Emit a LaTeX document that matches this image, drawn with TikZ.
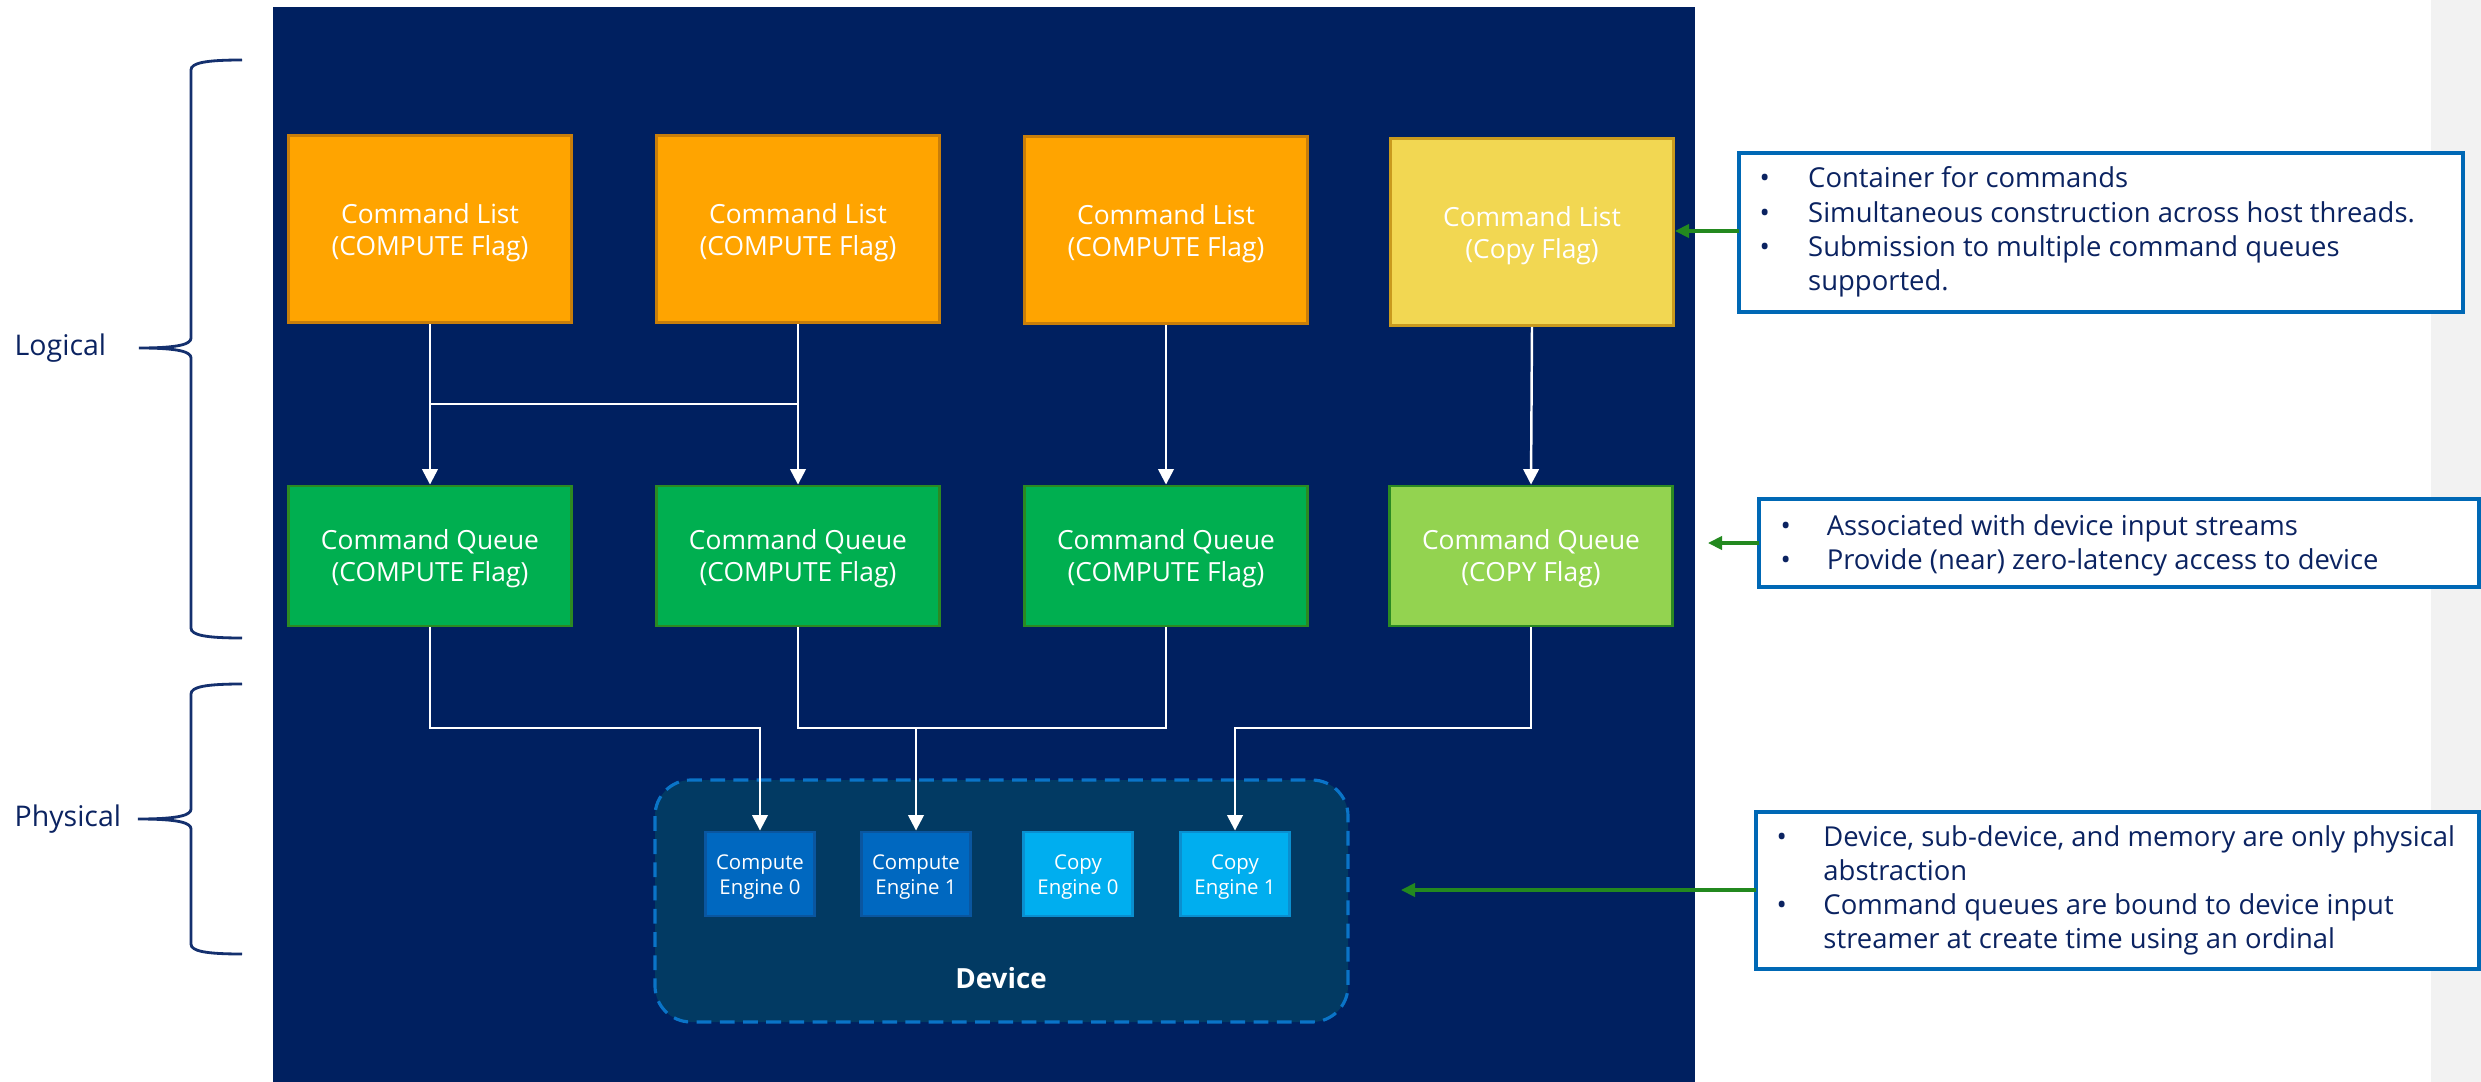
\documentclass[tikz,border=0pt]{standalone}
\usepackage{fontspec}
\setmainfont{Open Sans}
\usetikzlibrary{arrows.meta}
\definecolor{bgnavy}{HTML}{002060}
\definecolor{devfill}{HTML}{023A63}
\definecolor{devline}{HTML}{0A74C8}
\definecolor{clorange}{HTML}{FFA400}
\definecolor{clorangeb}{HTML}{C87E0A}
\definecolor{clyellow}{HTML}{F2D752}
\definecolor{clyellowb}{HTML}{C99A1E}
\definecolor{cqgreen}{HTML}{00AF50}
\definecolor{cqlgreen}{HTML}{93D350}
\definecolor{cqgreenb}{HTML}{2B8A22}
\definecolor{engblue}{HTML}{0068C0}
\definecolor{engblueb}{HTML}{0A56A0}
\definecolor{engcyan}{HTML}{00AEEF}
\definecolor{engcyanb}{HTML}{0A8FD0}
\definecolor{calloutb}{HTML}{0068B5}
\definecolor{txtnavy}{HTML}{0B2361}
\definecolor{brnavy}{HTML}{14306E}
\definecolor{arrgreen}{HTML}{23891F}
\definecolor{stripgray}{HTML}{F2F2F2}
\newcommand\lowtext[2]{\raisebox{#1}[\height][\depth]{\begin{tabular}{@{}c@{}}#2\end{tabular}}}
\tikzset{
  clbox/.style={draw=clorangeb, fill=clorange, line width=0.8pt, minimum width=2.83cm, minimum height=1.87cm, inner sep=0pt, text=white, align=center, font=\fontsize{7.5}{9.1}\selectfont},
  cqbox/.style={draw=cqgreenb, fill=cqgreen, line width=0.8pt, minimum width=2.83cm, minimum height=1.40cm, inner sep=0pt, text=white, align=center, font=\fontsize{7.5}{9.1}\selectfont},
  engbox/.style={draw=engblueb, fill=engblue, line width=0.8pt, minimum width=1.09cm, minimum height=0.84cm, inner sep=0pt, text=white, align=center, font=\fontsize{5.8}{7.1}\selectfont},
  wire/.style={draw=white, line width=0.7pt},
  warr/.style={wire, -{Triangle[length=4.4pt,width=4.4pt]}},
  garr/.style={draw=arrgreen, line width=0.9pt, -{Triangle[length=4pt,width=3.8pt]}},
  callout/.style={draw=calloutb, line width=1.4pt, fill=white},
  bullettext/.style={anchor=base west, inner sep=0pt, text=txtnavy, font=\fontsize{7.8}{9.75}\selectfont},
  bracket/.style={draw=brnavy, line width=0.8pt},
  sidelabel/.style={text=txtnavy, font=\fontsize{8.1}{10}\selectfont, inner sep=0pt, anchor=west}
}
\begin{document}
\begin{tikzpicture}[x=0.01cm, y=-0.01cm]
\useasboundingbox (0,0) rectangle (2481,1082);
% background areas
\fill[white] (0,0) rectangle (2481,1082);
\fill[stripgray] (2431,0) rectangle (2481,1082);
\fill[bgnavy] (273,7) rectangle (1695,1082);

% brackets
\draw[bracket] (242,60) .. controls (205,60) and (191,63) .. (191,70) -- (191,338)
  .. controls (191,344) and (180,348) .. (139,348)
  .. controls (180,348) and (191,352) .. (191,358) -- (191,628)
  .. controls (191,635) and (205,638) .. (242,638);
\draw[bracket] (242,684) .. controls (205,684) and (191,687) .. (191,694) -- (191,809)
  .. controls (191,815) and (180,819) .. (138,819)
  .. controls (180,819) and (191,823) .. (191,829) -- (191,944)
  .. controls (191,951) and (205,954) .. (242,954);
\node[sidelabel] (logical) at (14,348) {Logical};
\node[sidelabel] (physical) at (14,819) {Physical};

% device
\draw[devline, fill=devfill, line width=0.9pt, dash pattern=on 4.2pt off 2.4pt, rounded corners=0.36cm] (655,780) rectangle (1348,1022);
\node[text=white, font=\bfseries\fontsize{7.9}{9.5}\selectfont, inner sep=0pt] (device) at (1001,978) {Device};

% command lists
\node[clbox] (cl1) at (430,229) {\lowtext{-1.2pt}{Command List\\(COMPUTE Flag)}};
\node[clbox] (cl2) at (798,229) {\lowtext{-1.2pt}{Command List\\(COMPUTE Flag)}};
\node[clbox] (cl3) at (1166,230) {\lowtext{-1.2pt}{Command List\\(COMPUTE Flag)}};
\node[clbox, fill=clyellow, draw=clyellowb] (cl4) at (1532,232) {\lowtext{-1.2pt}{Command List\\(Copy Flag)}};

% command queues
\node[cqbox] (cq1) at (430,556) {\lowtext{-0.8pt}{Command Queue\\(COMPUTE Flag)}};
\node[cqbox] (cq2) at (798,556) {\lowtext{-0.8pt}{Command Queue\\(COMPUTE Flag)}};
\node[cqbox] (cq3) at (1166,556) {\lowtext{-0.8pt}{Command Queue\\(COMPUTE Flag)}};
\node[cqbox, fill=cqlgreen] (cq4) at (1531,556) {\lowtext{-0.8pt}{Command Queue\\(COPY Flag)}};

% engines
\node[engbox] (e0) at (760,874) {\lowtext{-0.8pt}{Compute\\Engine 0}};
\node[engbox] (e1) at (916,874) {\lowtext{-0.8pt}{Compute\\Engine 1}};
\node[engbox, fill=engcyan, draw=engcyanb] (c0) at (1078,874) {\lowtext{-0.8pt}{Copy\\Engine 0}};
\node[engbox, fill=engcyan, draw=engcyanb] (c1) at (1235,874) {\lowtext{-0.8pt}{Copy\\Engine 1}};

% connectors list -> queue
\draw[warr] (cl1.south) -- (cq1.north);
\draw[warr] (cl2.south) -- (cq2.north);
\draw[warr] (cl3.south) -- (cq3.north);
\draw[warr] (cl4.south) -- (cq4.north);
\coordinate (m1) at (430,404);
\coordinate (m2) at (798,404);
\draw[wire] (m1) -- (m2);

% connectors queue -> engines
\coordinate (bus) at (0,728);
\draw[warr] (cq1.south) |- (e0.north |- bus) -- (e0.north);
\draw[wire] (cq2.south) |- (cq3.south |- bus) -- (cq3.south);
\draw[warr] (e1.north |- bus) -- (e1.north);
\draw[warr] (cq4.south) |- (c1.north |- bus) -- (c1.north);

% callouts
\draw[callout] (1739,153) rectangle (2463,312);
\node[bullettext] (b1) at (1759,188) {\begin{tabular}[t]{@{}p{13.8pt}@{}l@{}}
\textbullet & Container for commands\\
\textbullet & Simultaneous construction across host threads.\\
\textbullet & Submission to multiple command queues\\
 & supported.
\end{tabular}};
\draw[callout] (1759,499) rectangle (2479,587);
\node[bullettext] (b2) at (1780,535) {\begin{tabular}[t]{@{}p{13.1pt}@{}l@{}}
\textbullet & Associated with device input streams\\
\textbullet & Provide (near) zero-latency access to device
\end{tabular}};
\draw[callout] (1756,812) rectangle (2479,969);
\node[bullettext] (b3) at (1776,846) {\begin{tabular}[t]{@{}p{13.3pt}@{}l@{}}
\textbullet & Device, sub-device, and memory are only physical\\
 & abstraction\\
\textbullet & Command queues are bound to device input\\
 & streamer at create time using an ordinal
\end{tabular}};

% green arrows
\coordinate (k1) at (1739,231);
\draw[garr] (k1) -- (cl4.east |- k1);
\coordinate (k2) at (1759,543);
\coordinate (k2t) at (1708,543);
\draw[garr] (k2) -- (k2t);
\coordinate (k3) at (1756,890);
\coordinate (k3t) at (1401,890);
\draw[garr] (k3) -- (k3t);
\end{tikzpicture}
\end{document}
